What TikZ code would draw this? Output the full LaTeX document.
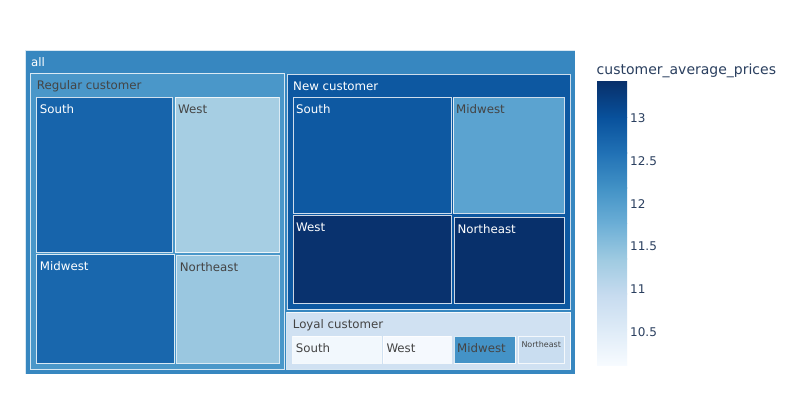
\documentclass[tikz,border=0pt]{standalone}
\usepackage{fontspec}
\setmainfont{DejaVu Sans}
\usetikzlibrary{calc}
\definecolor{cAll}{RGB}{55,135,192}
\definecolor{cReg}{RGB}{74,151,201}
\definecolor{cRegS}{RGB}{23,100,171}
\definecolor{cRegW}{RGB}{166,206,227}
\definecolor{cRegM}{RGB}{25,103,173}
\definecolor{cRegN}{RGB}{154,199,224}
\definecolor{cNew}{RGB}{13,88,161}
\definecolor{cNewS}{RGB}{14,89,162}
\definecolor{cNewM}{RGB}{91,163,208}
\definecolor{cNewW}{RGB}{9,50,110}
\definecolor{cNewN}{RGB}{8,48,107}
\definecolor{cLoy}{RGB}{208,225,242}
\definecolor{cLoyS}{RGB}{242,248,253}
\definecolor{cLoyW}{RGB}{245,249,254}
\definecolor{cLoyM}{RGB}{68,147,199}
\definecolor{cLoyN}{RGB}{201,221,240}
\definecolor{darktxt}{RGB}{68,68,68}
\definecolor{axtxt}{RGB}{42,63,95}
\definecolor{b0}{RGB}{247,251,255}
\definecolor{b1}{RGB}{222,235,247}
\definecolor{b2}{RGB}{198,219,239}
\definecolor{b3}{RGB}{158,202,225}
\definecolor{b4}{RGB}{107,174,214}
\definecolor{b5}{RGB}{66,146,198}
\definecolor{b6}{RGB}{33,113,181}
\definecolor{b7}{RGB}{8,81,156}
\definecolor{b8}{RGB}{8,48,107}
% name, x1, y1, x2, y2, fill, text colour, x offset, label
\newcommand\tmbox[9]{%
  \node[tm, fill=#6, minimum width={#4-#2}, minimum height={#5-#3}] (#1) at (#2,#3) {};
  \node[lbl, text=#7] (#1-t) at ($(#1.north west)+(#8,16.2)$) {#9};
}
\begin{document}
\begin{tikzpicture}[x=1pt,y=-1pt,
  tm/.style={rectangle, draw=white, draw opacity=0.8, line width=0.9pt,
    inner sep=0pt, outer sep=0pt, anchor=north west},
  lbl/.style={anchor=base west, inner sep=0pt, font=\fontsize{11.8}{14}\selectfont},
  tick/.style={anchor=west, inner sep=0pt, text=axtxt, font=\fontsize{12}{14}\selectfont}]
\useasboundingbox[fill=white] (0,0) rectangle (800,400);

\tmbox{all}{25}{50}{575}{374}{cAll}{white}{6}{all}
\tmbox{reg}{30.7}{73.3}{284.3}{369}{cReg}{darktxt}{6}{Regular customer}
\tmbox{regS}{36.7}{97.3}{172.7}{252.7}{cRegS}{white}{3}{South}
\tmbox{regW}{175}{97.3}{279}{252.7}{cRegW}{darktxt}{3}{West}
\tmbox{regM}{36.7}{254.7}{174}{363}{cRegM}{white}{3}{Midwest}
\tmbox{regN}{176.7}{255.7}{279}{363}{cRegN}{darktxt}{3}{Northeast}

\tmbox{new}{287}{74}{570.7}{309}{cNew}{white}{6}{New customer}
\tmbox{newS}{293}{97.6}{451.7}{213.3}{cNewS}{white}{3}{South}
\tmbox{newM}{453}{97.6}{564}{213.3}{cNewM}{darktxt}{3}{Midwest}
\tmbox{newW}{293}{215}{451.7}{303}{cNewW}{white}{3}{West}
\tmbox{newN}{454.3}{217.3}{564}{303}{cNewN}{white}{3}{Northeast}

\tmbox{loy}{286.7}{312.3}{570.7}{369}{cLoy}{darktxt}{6}{Loyal customer}
\tmbox{loyS}{292.7}{336}{381}{363}{cLoyS}{darktxt}{3}{South}
\tmbox{loyW}{383.3}{336}{451}{363}{cLoyW}{darktxt}{3}{West}
\tmbox{loyM}{454}{336}{515.3}{363}{cLoyM}{darktxt}{3}{Midwest}
\node[tm, fill=cLoyN, minimum width={564-518.3}, minimum height={363-336}] (loyN) at (518.3,336) {};
\node[anchor=base west, inner sep=0pt, text=darktxt, font=\fontsize{8}{9}\selectfont] (loyN-t) at ($(loyN.north west)+(3,11)$) {Northeast};

% colour bar
\foreach \i [evaluate=\i as \j using int(\i+1)] in {0,...,7}
  \shade[bottom color=b\i, top color=b\j] (597,{365-\i*35.375+0.3}) rectangle (627,{365-(\i+1)*35.375-0.3});
\node[anchor=base west, inner sep=0pt, text=axtxt, font=\fontsize{14}{16}\selectfont] (cbtitle) at (596.5,74) {customer\_average\_prices};
\node[tick] (t13) at (630,118) {13};
\node[tick] (t125) at (630,160.8) {12.5};
\node[tick] (t12) at (630,203.6) {12};
\node[tick] (t115) at (630,246.4) {11.5};
\node[tick] (t11) at (630,289.2) {11};
\node[tick] (t105) at (630,332) {10.5};
\end{tikzpicture}
\end{document}
